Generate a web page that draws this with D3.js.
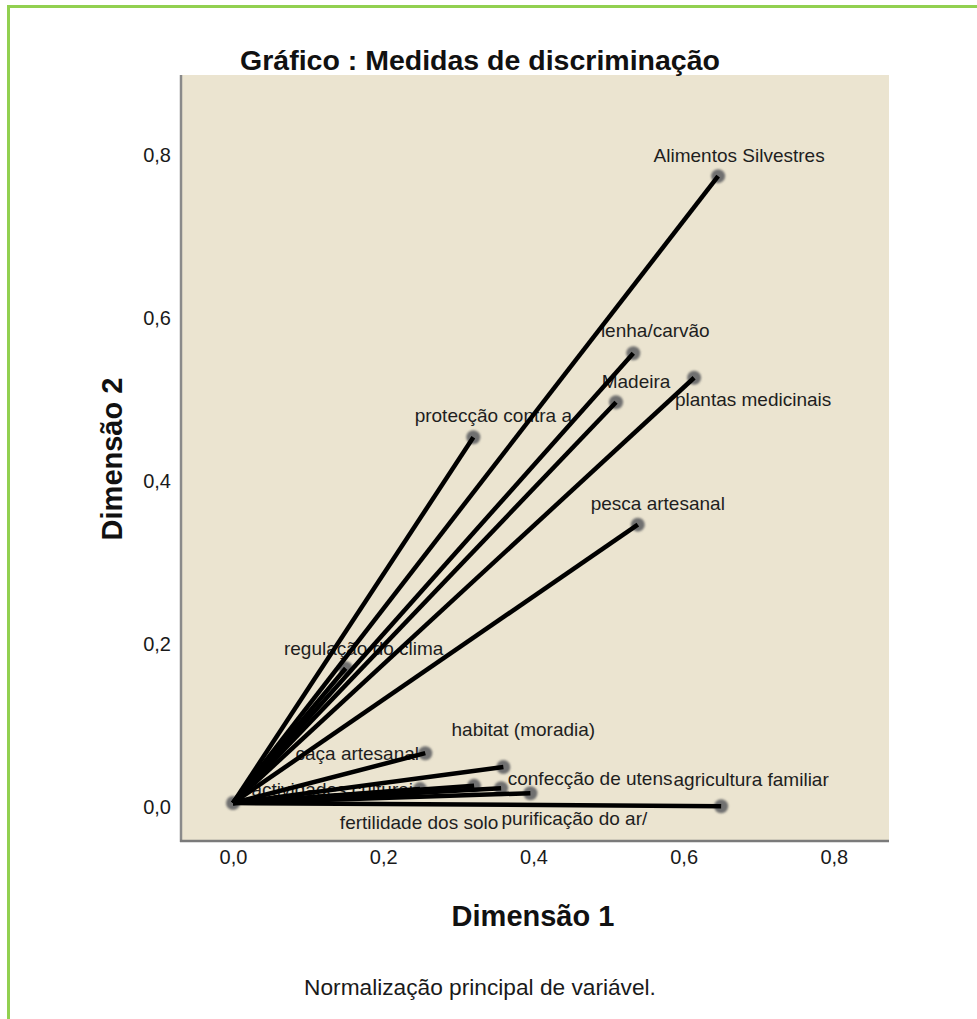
<!DOCTYPE html>
<html>
<head>
<meta charset="utf-8">
<script src="https://cdn.jsdelivr.net/npm/d3@7"></script>
<style>
  html, body { margin: 0; padding: 0; background: #fff; }
  svg { display: block; }
  text { font-family: "Liberation Sans", Arial, sans-serif; }
</style>
</head>
<body>
<script>
// Discrimination measures per variable (dimension 1, dimension 2)
const variables = [
  "Alimentos Silvestres",
  "lenha/carvão",
  "Madeira",
  "plantas medicinais",
  "protecção contra a",
  "pesca artesanal",
  "regulação do clima",
  "habitat (moradia)",
  "caça artesanal",
  "confecção de utens",
  "agricultura familiar",
  "fertilidade dos solo",
  "purificação do ar/",
  "actividades culturais"
];
const dim1 = [0.646, 0.533, 0.510, 0.614, 0.320, 0.539, 0.150, 0.360, 0.256, 0.357, 0.650, 0.321, 0.396, 0.249];
const dim2 = [0.768, 0.551, 0.491, 0.521, 0.448, 0.341, 0.165, 0.044, 0.061, 0.018, -0.004, 0.021, 0.012, 0.017];

const xTicks = [0, 0.2, 0.4, 0.6, 0.8];
const yTicks = [0, 0.2, 0.4, 0.6, 0.8];

const chartTitle = "Gráfico : Medidas de discriminação";
const xTitle = "Dimensão 1";
const yTitle = "Dimensão 2";
const footnote = "Normalização principal de variável.";

// Label placement relative to each point (pixels), to keep labels from colliding
const labelOffsets = [
  [21, -21], [22, -23], [20, -21], [59, 21], [20, -22], [20, -21], [18, -20],
  [20, -38], [-68, 0], [89, -10], [30, -27], [-55, 36], [44, 25], [-83, 0]
];

const W = 977, H = 1019;
const plot = { left: 180, top: 75, right: 889, bottom: 842 };

const svg = d3.select("body").append("svg")
  .attr("width", W).attr("height", H);

// page frame (green rule at top and left)
svg.append("rect").attr("x", 7).attr("y", 5).attr("width", W - 7).attr("height", 3).attr("fill", "#92d050");
svg.append("rect").attr("x", 7).attr("y", 5).attr("width", 3).attr("height", H - 5).attr("fill", "#92d050");

const x = d3.scaleLinear().domain([-0.0706, 0.8735]).range([plot.left, plot.right]);
const y = d3.scaleLinear().domain([-0.0478, 0.8919]).range([plot.bottom, plot.top]);

// plot background with shaded left/bottom edge
svg.append("rect")
  .attr("x", plot.left).attr("y", plot.top)
  .attr("width", plot.right - plot.left).attr("height", plot.bottom - plot.top)
  .attr("fill", "#ebe4d0");
svg.append("line")
  .attr("x1", plot.left + 1).attr("x2", plot.left + 1)
  .attr("y1", plot.top).attr("y2", plot.bottom)
  .attr("stroke", "#8a8a8a").attr("stroke-width", 2.5);
svg.append("line")
  .attr("x1", plot.left).attr("x2", plot.right)
  .attr("y1", plot.bottom - 1).attr("y2", plot.bottom - 1)
  .attr("stroke", "#7a7a7a").attr("stroke-width", 2.5);

const fmt = v => d3.format(".1f")(v).replace(".", ",");

// axes (labels only)
const xAxis = svg.append("g")
  .attr("transform", `translate(0,${plot.bottom})`)
  .call(d3.axisBottom(x).tickValues(xTicks).tickFormat(fmt).tickSize(0).tickPadding(8));
const yAxis = svg.append("g")
  .attr("transform", `translate(${plot.left},0)`)
  .call(d3.axisLeft(y).tickValues(yTicks).tickFormat(fmt).tickSize(0).tickPadding(9));
[xAxis, yAxis].forEach(g => {
  g.select(".domain").remove();
  g.selectAll("text")
    .attr("font-family", "Liberation Sans, Arial, sans-serif")
    .attr("font-size", 20).attr("fill", "#1a1a1a");
});
yAxis.selectAll("text").attr("dy", "0.55em");

// titles
svg.append("text")
  .attr("x", 480).attr("y", 70)
  .attr("text-anchor", "middle")
  .attr("font-size", 28.5).attr("font-weight", "bold").attr("fill", "#111")
  .text(chartTitle);
svg.append("text")
  .attr("x", 533).attr("y", 926)
  .attr("text-anchor", "middle")
  .attr("font-size", 29).attr("font-weight", "bold").attr("fill", "#111")
  .text(xTitle);
svg.append("text")
  .attr("transform", "translate(122,459) rotate(-90)")
  .attr("text-anchor", "middle")
  .attr("font-size", 29).attr("font-weight", "bold").attr("fill", "#111")
  .text(yTitle);
svg.append("text")
  .attr("x", 480).attr("y", 995)
  .attr("text-anchor", "middle")
  .attr("font-size", 22.7).attr("fill", "#1a1a1a")
  .text(footnote);

const items = variables.map((name, i) => ({ name, d1: dim1[i], d2: dim2[i], off: labelOffsets[i] }));

// labels sit beneath the vectors
svg.append("g").selectAll("text").data(items).join("text")
  .attr("x", d => x(d.d1) + d.off[0])
  .attr("y", d => y(d.d2) + d.off[1])
  .attr("dy", "0.36em")
  .attr("text-anchor", "middle")
  .attr("font-size", 19).attr("fill", "#1e1e1e")
  .text(d => d.name);

// point markers at origin and at each vector end
const defs = svg.append("defs");
defs.append("filter").attr("id", "soft")
  .append("feGaussianBlur").attr("stdDeviation", 1);
const marks = svg.append("g").attr("filter", "url(#soft)");
marks.append("circle")
  .attr("cx", x(0)).attr("cy", y(0)).attr("r", 7).attr("fill", "#6f6f6f");
marks.selectAll("circle.end").data(items).join("circle")
  .attr("class", "end")
  .attr("cx", d => x(d.d1)).attr("cy", d => y(d.d2))
  .attr("r", 7).attr("fill", "#6f6f6f");

// vectors from the origin
svg.append("g").selectAll("line").data(items).join("line")
  .attr("x1", x(0)).attr("y1", y(0))
  .attr("x2", d => x(d.d1)).attr("y2", d => y(d.d2))
  .attr("stroke", "#000").attr("stroke-width", 4.5)
  .attr("stroke-linecap", "butt");
</script>
</body>
</html>
